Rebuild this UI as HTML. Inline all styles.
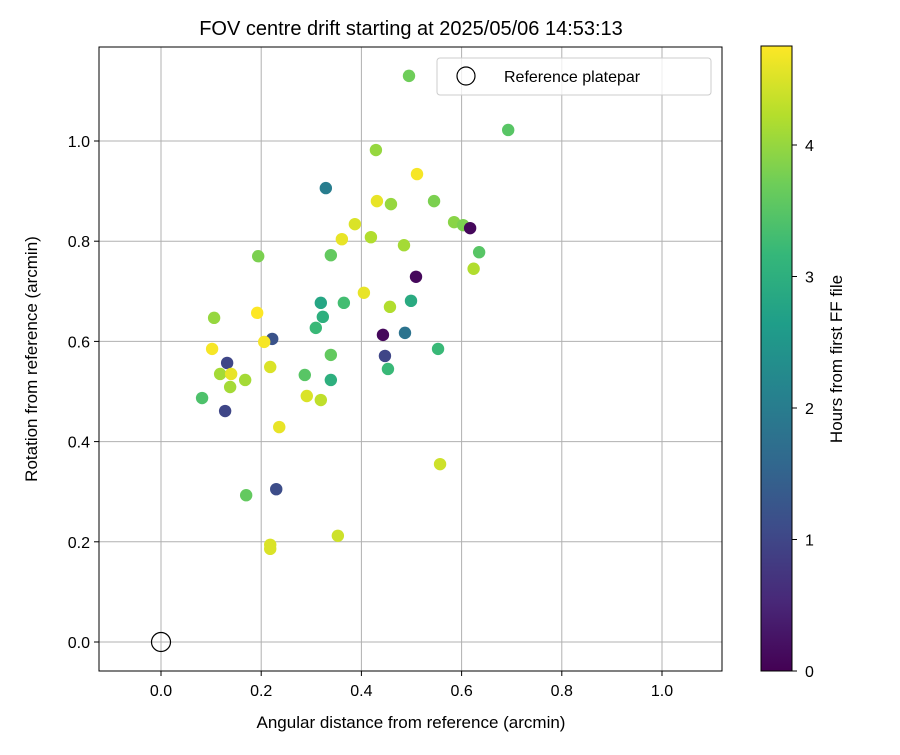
<!DOCTYPE html>
<html><head><meta charset="utf-8"><style>
body{margin:0;background:#fff;}
svg text{font-family:"Liberation Sans","DejaVu Sans",sans-serif;fill:#000;}
</style></head><body>
<svg id="chart" width="900" height="750" xmlns="http://www.w3.org/2000/svg">
<defs><linearGradient id="vir" x1="0" y1="1" x2="0" y2="0"></linearGradient></defs>
<text x="411" y="35" font-size="20" text-anchor="middle">FOV centre drift starting at 2025/05/06 14:53:13</text>
<g id="grid"></g>
<g id="pts"></g>
<rect x="99" y="47" width="623" height="624" fill="none" stroke="#000" stroke-width="1"/>
<g id="ticks"></g>
<text x="411" y="728" font-size="17" text-anchor="middle">Angular distance from reference (arcmin)</text>
<text transform="translate(37,359) rotate(-90)" font-size="17" text-anchor="middle">Rotation from reference (arcmin)</text>
<g>
<rect x="437" y="58" width="274" height="37" rx="3" fill="#fff" fill-opacity="0.8" stroke="#ccc"/>
<circle cx="466" cy="76" r="9" fill="none" stroke="#000" stroke-width="1.2"/>
<text x="504" y="82" font-size="16">Reference platepar</text>
</g>
<rect id="cbar" x="761" y="46" width="31" height="625" fill="url(#vir)" stroke="#000" stroke-width="1"/>
<g id="cticks"></g>
<text transform="translate(842,359) rotate(-90)" font-size="17" text-anchor="middle">Hours from first FF file</text>
</svg>
<script>
const xVals=[.495,.693,.429,.329,.511,.431,.459,.545,.387,.585,.603,.617,.361,.419,.485,.194,.339,.635,.624,.509,.405,.319,.365,.499,.457,.192,.106,.323,.309,.443,.487,.222,.206,.102,.553,.339,.447,.132,.218,.453,.118,.140,.287,.339,.168,.138,.291,.319,.082,.128,.236,.557,.170,.230,.353,.218,.218];
const yVals=[1.130,1.022,.982,.906,.934,.880,.874,.880,.834,.838,.832,.826,.804,.808,.792,.770,.772,.778,.745,.729,.697,.677,.677,.681,.669,.657,.647,.649,.627,.613,.617,.605,.599,.585,.585,.573,.571,.557,.549,.545,.535,.535,.533,.523,.523,.509,.491,.483,.487,.461,.429,.355,.293,.305,.212,.194,.186];
const hours=[3.7,3.5,4.0,2.0,4.7,4.6,4.0,3.8,4.5,3.9,3.8,0.1,4.6,4.2,4.1,3.8,3.6,3.5,4.2,0.1,4.6,2.8,3.3,2.9,4.2,4.75,4.0,3.0,3.2,0.1,1.8,1.2,4.7,4.7,3.2,3.6,1.0,1.0,4.5,3.2,4.1,4.6,3.5,3.0,4.1,4.1,4.5,4.3,3.4,1.0,4.6,4.4,3.6,1.1,4.4,4.5,4.5];
const xTicks=[0,0.2,0.4,0.6,0.8,1.0];
const yTicks=[0,0.2,0.4,0.6,0.8,1.0];
const cTicks=[0,1,2,3,4];
const X0=161,XS=501,Y0=642,YS=501,CB=671,CS=131.5,HMAX=4.75;
const sx=v=>X0+v*XS, sy=v=>Y0-v*YS, sc=h=>CB-h*CS;
const vir=[[68,1,84],[72,40,120],[62,74,137],[49,104,142],[38,130,142],[31,158,137],[53,183,121],[109,205,89],[180,222,44],[253,231,37]];
function cmap(t){t=Math.max(0,Math.min(1,t))*(vir.length-1);const i=Math.min(Math.floor(t),vir.length-2),f=t-i;const c=vir[i].map((a,k)=>Math.round(a+(vir[i+1][k]-a)*f));return `rgb(${c})`;}
const NS='http://www.w3.org/2000/svg';
function mk(tag,attrs,parent){const e=document.createElementNS(NS,tag);for(const k in attrs)e.setAttribute(k,attrs[k]);parent.appendChild(e);return e;}
const grad=document.getElementById('vir');
vir.forEach((c,i)=>mk('stop',{offset:(i/(vir.length-1)*100)+'%','stop-color':`rgb(${c})`},grad));
const grid=document.getElementById('grid'),ticks=document.getElementById('ticks');
xTicks.forEach(v=>{const x=sx(v);
const g=mk('line',{x1:x,x2:x,y1:47,y2:671,stroke:'#b0b0b0','stroke-width':1},grid);


mk('line',{x1:x,x2:x,y1:671,y2:676,stroke:'#000'},ticks);
const t=mk('text',{x:x,y:696,'font-size':16,'text-anchor':'middle'},ticks);t.textContent=v.toFixed(1);

});
yTicks.forEach(v=>{const y=sy(v);
const g=mk('line',{x1:99,x2:722,y1:y,y2:y,stroke:'#b0b0b0','stroke-width':1},grid);


mk('line',{x1:94,x2:99,y1:y,y2:y,stroke:'#000'},ticks);
const t=mk('text',{x:90,y:y+6,'font-size':16,'text-anchor':'end'},ticks);t.textContent=v.toFixed(1);

});
const pts=document.getElementById('pts');
xVals.forEach((v,i)=>{const c=mk('circle',{cx:sx(v),cy:sy(yVals[i]),r:6.2,fill:cmap(hours[i]/HMAX)},pts);

});
const ref=mk('circle',{cx:sx(0),cy:sy(0),r:9.5,fill:'none',stroke:'#000','stroke-width':1.2},pts);


const ct=document.getElementById('cticks');
cTicks.forEach(h=>{const y=sc(h);
mk('line',{x1:792,x2:797,y1:y,y2:y,stroke:'#000'},ct);
const t=mk('text',{x:805,y:y+6,'font-size':16},ct);t.textContent=h;

});
</script>
</body></html>
